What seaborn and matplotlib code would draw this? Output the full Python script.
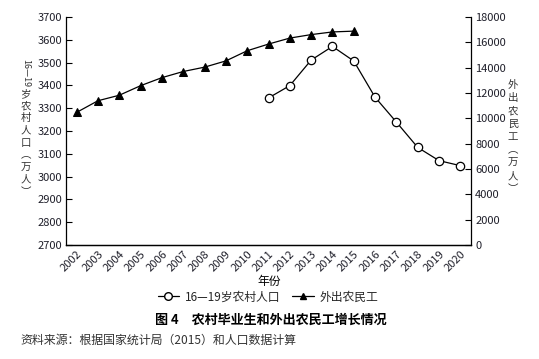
import matplotlib
matplotlib.use("Agg")
import matplotlib.pyplot as plt
import matplotlib.transforms as mtransforms
from matplotlib.lines import Line2D
import seaborn as sns
import pandas as pd

# ---- data ----
years = list(range(2002, 2021))
migrant_years = list(range(2002, 2016))
migrant_workers = [10470, 11390, 11823, 12578, 13212, 13697, 14041,
                   14533, 15335, 15863, 16336, 16610, 16821, 16884]
rural_years = list(range(2011, 2021))
rural_16_19 = [3345, 3399, 3511, 3571, 3507, 3348, 3239, 3128, 3070, 3048]
left_ticks = list(range(2700, 3701, 100))
right_ticks = list(range(0, 18001, 2000))

sns.set_theme(style="white")
plt.rcParams["font.family"] = ["Noto Sans CJK SC", "DejaVu Sans"]

W, H = 539, 359
fig = plt.figure(figsize=(W / 100, H / 100), dpi=100)
ax = fig.add_axes([66 / W, 1 - 245 / H, 405 / W, 228 / H])
ax2 = ax.twinx()

df_r = pd.DataFrame({"year": rural_years, "v": rural_16_19})
df_m = pd.DataFrame({"year": migrant_years, "v": migrant_workers})

sns.lineplot(data=df_r, x="year", y="v", ax=ax, color="black", lw=0.9,
             marker="o", markersize=6, markerfacecolor="white",
             markeredgecolor="black", markeredgewidth=0.9, zorder=3)
sns.lineplot(data=df_m, x="year", y="v", ax=ax2, color="black", lw=0.9,
             marker="^", markersize=5.5, markerfacecolor="black",
             markeredgecolor="black", zorder=3)

ax.set_ylim(2700, 3700)
ax2.set_ylim(0, 18000)
ax.set_yticks(left_ticks)
ax2.set_yticks(right_ticks)
ax.set_xlim(2001.5, 2020.5)
ax.set_xlabel("")
ax.set_ylabel("")
ax2.set_ylabel("")

# tick marks at category boundaries, labels at centres
ax.set_xticks([y + 0.5 for y in years[:-1]])
ax.set_xticklabels([])
ax.set_xticks(years, minor=True)
ax.set_xticklabels([str(y) for y in years], minor=True, rotation=45,
                   ha="right", rotation_mode="anchor", fontsize=8)
offset = mtransforms.ScaledTranslation(9 / 100, -1 / 100, fig.dpi_scale_trans)
for lbl in ax.get_xticklabels(minor=True):
    lbl.set_transform(lbl.get_transform() + offset)

ax.tick_params(axis="x", which="major", direction="in", length=4,
               width=0.8, color="black")
ax.tick_params(axis="x", which="minor", length=0, pad=3)
ax.tick_params(axis="y", direction="in", length=4, width=0.8, color="black",
               labelsize=8, pad=3)
ax2.tick_params(axis="y", direction="in", length=4, width=0.8, color="black",
                labelsize=8, pad=3)
for a in (ax, ax2):
    for s in a.spines.values():
        s.set_color("black")
        s.set_linewidth(0.9)
    a.spines["top"].set_visible(False)
    a.grid(False)
ax.spines["right"].set_visible(False)
ax2.spines["left"].set_visible(False)

tc = "#1f1f2a"
for lbl in (ax.get_yticklabels() + ax2.get_yticklabels()
            + ax.get_xticklabels(minor=True)):
    lbl.set_color(tc)

# left vertical label
fs_lab = 7.5
lab_col = "#333333"
fig.text(26 / W, 1 - 59 / H, "16—19", rotation=-90, ha="center",
         va="top", fontsize=6.5, color=lab_col)
fig.text(26 / W, 1 - 89 / H, "岁\n农\n村\n人\n口\n︵\n万\n人\n︶",
         ha="center", va="top", fontsize=fs_lab, color=lab_col,
         linespacing=1.28)

fig.text(513 / W, 1 - 80 / H, "外\n出\n农\n民\n工\n︵\n万\n人\n︶",
         ha="center", va="top", fontsize=fs_lab, color=lab_col,
         linespacing=1.38)

fig.text(269 / W, 1 - 281 / H, "年份", ha="center", va="center",
         fontsize=8.5, color="black")

handles = [
    Line2D([], [], color="black", lw=0.9, marker="o", markersize=5.5,
           markerfacecolor="white", markeredgecolor="black"),
    Line2D([], [], color="black", lw=0.9, marker="^", markersize=5,
           markerfacecolor="black"),
]
fig.legend(handles, ["16—19岁农村人口", "外出农民工"], loc="center",
           bbox_to_anchor=(268 / W, 1 - 297 / H), ncol=2, frameon=False,
           fontsize=8.5, handlelength=1.8, handletextpad=0.5,
           columnspacing=1.0, borderpad=0)

fig.text(271 / W, 1 - 320 / H, "图 4　农村毕业生和外出农民工增长情况",
         ha="center", va="center", fontsize=9.4, fontweight="bold",
         color="black")
fig.text(20 / W, 1 - 340 / H, "资料来源：根据国家统计局（2015）和人口数据计算",
         ha="left", va="center", fontsize=8.6, color="#333333")

fig.savefig("out.png", dpi=100)
